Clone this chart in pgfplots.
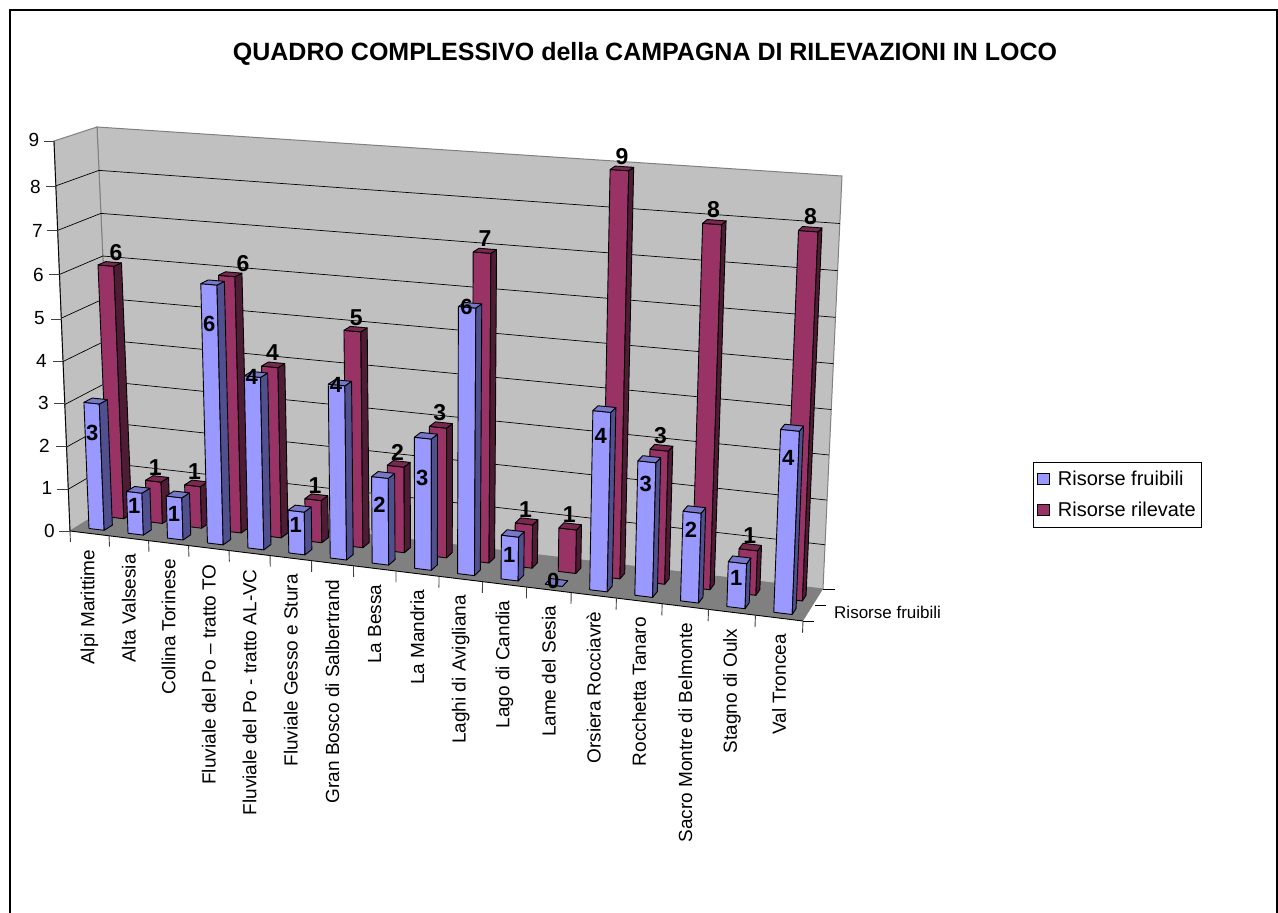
\documentclass[border=0pt]{standalone}
\usepackage{pgfplots}
\usepackage{pgfplotstable}
\usepackage{fontspec}
\setmainfont{Liberation Sans}
\pgfplotsset{compat=1.18}
\definecolor{bluef}{HTML}{9999FF}
\definecolor{blues}{HTML}{50508F}
\definecolor{bluet}{HTML}{7878C8}
\definecolor{redf}{HTML}{993366}
\definecolor{reds}{HTML}{4F1C36}
\definecolor{redt}{HTML}{7A2850}
\definecolor{wallc}{HTML}{C0C0C0}
\definecolor{floorc}{HTML}{808080}
\pgfplotstableread[col sep=comma]{
cat,name,fru,ril,lw,ru
0,Alpi Marittime,3,6,2.3,0.75
1,Alta Valsesia,1,1,0.67,0.55
2,Collina Torinese,1,1,0.6,0.55
3,Fluviale del Po – tratto TO,6,6,5.1,0.9
4,Fluviale del Po - tratto AL-VC,4,4,4.0,0.57
5,Fluviale Gesso e Stura,1,1,0.68,0.55
6,Gran Bosco di Salbertrand,4,5,4.0,0.6
7,La Bessa,2,2,1.37,0.55
8,La Mandria,3,3,2.1,0.55
9,Laghi di Avigliana,6,7,6.0,0.58
10,Lago di Candia,1,1,0.58,0.55
11,Lame del Sesia,0,1,0.1,0.55
12,Orsiera Rocciavrè,4,9,3.47,0.57
13,Rocchetta Tanaro,3,3,2.5,0.55
14,Sacro Montre di Belmonte,2,8,1.6,0.55
15,Stagno di Oulx,1,1,0.65,0.55
16,Val Troncea,4,8,3.4,0.57
}\datatable
\newcommand{\poly}[2]{\addplot[forget plot,#1] table[row sep=\\,
  x expr={projx(\thisrow{i},\thisrow{v},\thisrow{w})},
  y expr={projy(\thisrow{i},\thisrow{v},\thisrow{w})}]{i v w\\ #2};}
\newcommand{\face}[2]{\addplot[forget plot,fill=#1,draw=black,line width=0.9pt,line join=round] table[row sep=\\,
  x expr={projx(\barI+\uL+\thisrow{a}*\uW,\vF+\thisrow{b}*\vW,\barH*\thisrow{c})},
  y expr={projy(\barI+\uL+\thisrow{a}*\uW,\vF+\thisrow{b}*\vW,\barH*\thisrow{c})}]{a b c\\ #2};}
\newcommand{\boxbar}[3]{%
  \face{#1}{0 0 0\\ 1 0 0\\ 1 0 1\\ 0 0 1\\ 0 0 0\\}%
  \face{#2}{1 0 0\\ 1 1 0\\ 1 1 1\\ 1 0 1\\ 1 0 0\\}%
  \face{#3}{0 0 1\\ 1 0 1\\ 1 1 1\\ 0 1 1\\ 0 0 1\\}}
\newcommand{\gridl}[1]{\poly{black,line width=0.7pt}{0 0 #1\\ 0 1 #1\\ 17 1 #1\\}}
\begin{document}
\begin{tikzpicture}[declare function={
  wu(\i)=(\i/17)/((\i/17)+(1-\i/17)*1.11);
  fw(\w)=(\w/9)-0.04*(\w/9)*(1-\w/9);
  bil(\a,\b,\c,\d,\u,\v)=(1-\v)*((1-\u)*\a+\u*\b)+\v*((1-\u)*\d+\u*\c);
  projx(\i,\v,\w)=(1-fw(\w))*bil(70,803,823,114,wu(\i),\v)+fw(\w)*bil(54,820,842,97,wu(\i),\v);
  projy(\i,\v,\w)=(1-fw(\w))*bil(531,621,589,504,wu(\i),\v)+fw(\w)*bil(141,197,176,127,wu(\i),\v);
}]
\useasboundingbox (0,0) rectangle (1278pt,913pt);
\begin{axis}[at={(0,0)},anchor=south west,scale only axis,width=1278pt,height=913pt,
  xmin=0,xmax=1278,ymin=0,ymax=913,y dir=reverse,axis lines=none,clip=false,
  legend image code/.code={\draw[#1,line width=1pt] (4pt,-5.5pt) rectangle (15.5pt,5.5pt);},
  legend cell align=left,
  legend style={at={(axis cs:1033,462)},anchor=north west,draw=black,line width=0.8pt,
    font=\fontsize{20}{22}\selectfont,inner xsep=4pt,inner ysep=7pt,row sep=11pt},
]
\addlegendimage{fill=bluef,draw=black}
\addlegendentry{\hspace{6pt}Risorse fruibili}
\addlegendimage{fill=redf,draw=black}
\addlegendentry{\hspace{6pt}Risorse rilevate}

% frame
\draw[black,line width=2pt] (axis cs:10,913)--(axis cs:10,10)--(axis cs:1277,10)--(axis cs:1277,913);
% walls and floor
\poly{fill=wallc,draw=floorc,line width=1pt}{0 1 0\\ 0 1 9\\ 17 1 9\\ 17 1 0\\ 0 1 0\\}
\poly{fill=wallc,draw=floorc,line width=1pt}{0 0 0\\ 0 0 9\\ 0 1 9\\ 0 1 0\\ 0 0 0\\}
\poly{fill=floorc,draw=none}{0 0 0\\ 17 0 0\\ 17 1 0\\ 0 1 0\\ 0 0 0\\}
\gridl{1}\gridl{2}\gridl{3}\gridl{4}\gridl{5}\gridl{6}\gridl{7}\gridl{8}
\poly{black,line width=0.9pt}{0 0 9\\ 0 0 0\\ 17 0 0\\}
% ticks on the category edge
\pgfplotsforeachungrouped \k in {0,...,17}{%
  \addplot[forget plot,black!75,line width=0.9pt] table[row sep=\\,
    x expr={projx(\k,0,\thisrow{w})},y expr={projy(\k,0,\thisrow{w})}]{w\\ 0\\ -0.26\\};
}
% value-axis ticks
\draw[black!75,line width=0.9pt]
  (axis cs:44,141)--(axis cs:54,141)
  (axis cs:46,186.7)--(axis cs:56,186.7)
  (axis cs:47,230.7)--(axis cs:58,230.7)
  (axis cs:49,274.7)--(axis cs:60,274.7)
  (axis cs:51,319)--(axis cs:62,319)
  (axis cs:53,361)--(axis cs:63,361)
  (axis cs:54,403)--(axis cs:65,403)
  (axis cs:56,446)--(axis cs:67,446)
  (axis cs:57,489)--(axis cs:68,489)
  (axis cs:59,531)--(axis cs:70,531);
% depth ticks
\draw[black,line width=0.9pt]
  (axis cs:823,589)--(axis cs:835,589)
  (axis cs:815,605.5)--(axis cs:826,605.5)
  (axis cs:803,621)--(axis cs:814,621);
\begin{scope}[every node/.style={anchor=east,inner sep=0pt,font=\fontsize{19}{21}\selectfont}]
\node at (axis cs:39.5,140){9};
\node at (axis cs:41,186.5){8};
\node at (axis cs:43,230.5){7};
\node at (axis cs:44,274.5){6};
\node at (axis cs:45,318){5};
\node at (axis cs:47,361){4};
\node at (axis cs:49,403){3};
\node at (axis cs:50,446){2};
\node at (axis cs:52.5,488){1};
\node at (axis cs:55,531){0};
\end{scope}
\node[anchor=west,inner sep=0pt,font=\fontsize{17}{19}\selectfont] at (axis cs:834,612){Risorse fruibili};
\node[font=\fontsize{25}{29}\selectfont\bfseries] at (axis cs:645,54)
  {QUADRO COMPLESSIVO della CAMPAGNA DI RILEVAZIONI IN LOCO};

% bars, far row first in each category
\pgfplotsforeachungrouped \barI in {0,...,16}{%
  \pgfplotstablegetelem{\barI}{ril}\of\datatable
  \let\barH\pgfplotsretval
  \def\uL{0.34}\def\uW{0.40}\def\vF{0.58}\def\vW{0.18}%
  \boxbar{redf}{reds}{redt}%
  \pgfplotstablegetelem{\barI}{fru}\of\datatable
  \let\barH\pgfplotsretval
  \def\uL{0.32}\def\uW{0.39}\def\vF{0.15}\def\vW{0.19}%
  \boxbar{bluef}{blues}{bluet}%
}
% category names
\addplot[forget plot,only marks,mark=none,point meta=explicit symbolic,nodes near coords,
  every node near coord/.append style={yshift=-16pt,rotate=90,anchor=east,inner sep=0pt,
    font=\fontsize{19}{21}\selectfont,text=black}]
  table[x expr={projx(\thisrow{cat}+0.5,0,0)},y expr={projy(\thisrow{cat}+0.5,0,0)},meta=name]{\datatable};
% value labels
\addplot[forget plot,only marks,mark=none,point meta=explicit symbolic,nodes near coords,
  every node near coord/.append style={anchor=south,inner sep=0pt,yshift=5pt,
    font=\fontsize{23}{25}\selectfont\bfseries,text=black}]
  table[x expr={projx(\thisrow{cat}+\thisrow{ru},0.62,\thisrow{ril})},y expr={projy(\thisrow{cat}+\thisrow{ru},0.62,\thisrow{ril})},meta=ril]{\datatable};
\addplot[forget plot,only marks,mark=none,point meta=explicit symbolic,nodes near coords,
  every node near coord/.append style={anchor=center,inner sep=0pt,
    font=\fontsize{22}{24}\selectfont\bfseries,text=black}]
  table[x expr={projx(\thisrow{cat}+0.5,0.15,\thisrow{lw})},y expr={projy(\thisrow{cat}+0.5,0.15,\thisrow{lw})},meta=fru]{\datatable};
\end{axis}
\end{tikzpicture}
\end{document}
